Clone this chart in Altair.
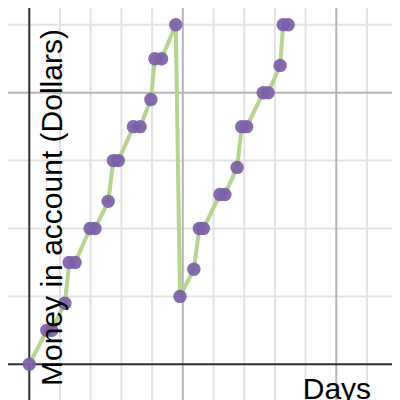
import altair as alt
import pandas as pd

# Data (grid units: x minor step = 1 day-unit, y minor step = 1 money-unit)
days = [0, 0.57, 0.73, 1.16, 1.30, 1.49, 1.98, 2.14, 2.57, 2.74, 2.90, 3.39, 3.61,
        3.96, 4.09, 4.31, 4.77, 4.91, 5.36, 5.54, 5.67, 6.21, 6.37, 6.77, 6.92,
        7.08, 7.62, 7.78, 8.17, 8.27, 8.43]
money = [0, 0.5, 0.5, 0.9, 1.5, 1.5, 2.0, 2.0, 2.4, 3.0, 3.0, 3.5, 3.5,
         3.9, 4.5, 4.5, 5.0, 1.0, 1.4, 2.0, 2.0, 2.5, 2.5, 2.9, 3.5,
         3.5, 4.0, 4.0, 4.4, 5.0, 5.0]

x_minor = [1, 2, 3, 4, 6, 7, 8, 9, 11, 12]
x_major = [5, 10]
y_minor = [1, 2, 3, 5]
y_major = [4]

df = pd.DataFrame({"day": days, "money": money, "order": list(range(len(days)))})

W, H = 384, 392
# screen px = 8 + plot px; reference: x_px = 29.3 + 30.7*x, y_px = 364.3 - 67.9*y
xs = alt.Scale(domain=[(8 - 29.3) / 30.7, (8 + W - 29.3) / 30.7], nice=False, zero=False)
ys = alt.Scale(domain=[(364.3 - 8 - H) / 67.9, (364.3 - 8) / 67.9], nice=False, zero=False)

def vrules(vals, color, width):
    return alt.Chart(pd.DataFrame({"v": vals})).mark_rule(color=color, strokeWidth=width).encode(
        x=alt.X("v:Q", scale=xs, axis=None))

def hrules(vals, color, width):
    return alt.Chart(pd.DataFrame({"v": vals})).mark_rule(color=color, strokeWidth=width).encode(
        y=alt.Y("v:Q", scale=ys, axis=None))

grid = (vrules(x_minor, "#e2e2e2", 2) + hrules(y_minor, "#e2e2e2", 2)
        + vrules(x_major, "#b4b4b4", 2) + hrules(y_major, "#b4b4b4", 2))

axes = (alt.Chart(pd.DataFrame({"v": [0]})).mark_rule(color="#2e2e2e", strokeWidth=2).encode(
            x=alt.X("v:Q", scale=xs, axis=None))
        + alt.Chart(pd.DataFrame({"v": [0]})).mark_rule(color="#2e2e2e", strokeWidth=2).encode(
            y=alt.Y("v:Q", scale=ys, axis=None)))

base = alt.Chart(df)
line = base.mark_line(color="#b5d48e", strokeWidth=4).encode(
    x=alt.X("day:Q", scale=xs, axis=None),
    y=alt.Y("money:Q", scale=ys, axis=None),
    order="order:Q")
pts = base.mark_circle(color="#7b5ea7", size=180, opacity=0.92).encode(
    x=alt.X("day:Q", scale=xs, axis=None),
    y=alt.Y("money:Q", scale=ys, axis=None))

ylab = alt.Chart(pd.DataFrame({"x": [1.055], "y": [2.309], "t": ["Money in account (Dollars)"]})).mark_text(
    angle=270, align="center", baseline="alphabetic", font="Liberation Sans", fontSize=30, color="#000000"
).encode(x=alt.X("x:Q", scale=xs, axis=None), y=alt.Y("y:Q", scale=ys, axis=None), text="t:N")

xlab = alt.Chart(pd.DataFrame({"x": [10.02], "y": [-0.504], "t": ["Days"]})).mark_text(
    align="center", baseline="alphabetic", font="Liberation Sans", fontSize=30, color="#000000"
).encode(x=alt.X("x:Q", scale=xs, axis=None), y=alt.Y("y:Q", scale=ys, axis=None), text="t:N")

chart = alt.layer(grid, axes, line, pts, ylab, xlab).properties(
    width=W, height=H, padding=0, autosize=alt.AutoSizeParams(type="none")
).configure_view(stroke=None)

chart.save("out.html", embed_options={"renderer": "svg", "actions": False})
